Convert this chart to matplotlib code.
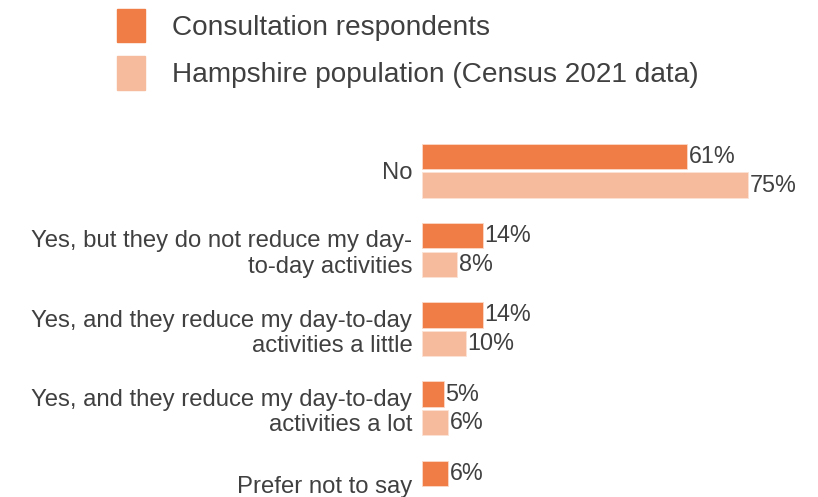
import matplotlib.pyplot as plt
import matplotlib.transforms as mtransforms
import numpy as np
from matplotlib.patches import Patch

plt.rcParams['font.family'] = ['Liberation Sans', 'DejaVu Sans']

categories = ['No',
              'Yes, but they do not reduce my day-\nto-day activities',
              'Yes, and they reduce my day-to-day\nactivities a little',
              'Yes, and they reduce my day-to-day\nactivities a lot',
              'Prefer not to say']
respondents = [61, 14, 14, 5, 6]
census = [75, 8, 10, 6, None]
series_names = ['Consultation respondents', 'Hampshire population (Census 2021 data)']

dark = '#EF7D45'
light = '#F6BB9D'
txt = '#404040'

fig = plt.figure(figsize=(8.18, 4.97), dpi=100)
ax = fig.add_axes([422/818, 0, 396/818, 367/497])

y = np.arange(len(categories))
off = 0.18
h = 0.32

for i, v in enumerate(respondents):
    ax.barh(y[i] - off, v, height=h, color=dark, edgecolor='#FBD9C8', linewidth=0.6)
    ax.text(v + 0.4, y[i] - off, f'{v}%', va='center', ha='left', fontsize=16.8, color=txt)
for i, v in enumerate(census):
    if v is None:
        continue
    ax.barh(y[i] + off, v, height=h, color=light, edgecolor='#FBE3D6', linewidth=0.6)
    ax.text(v + 0.4, y[i] + off, f'{v}%', va='center', ha='left', fontsize=16.8, color=txt)

ax.set_xlim(0, 91)
ax.set_ylim(4.12, -0.515)
ax.set_yticks(y)
ax.set_yticklabels(categories, fontsize=17.2, color=txt, linespacing=1.18)
ax.tick_params(axis='y', length=0, pad=7)
ax.set_xticks([])
for s in ax.spines.values():
    s.set_visible(False)

# last label sits at the bottom edge, nudge it up a little so it isn't clipped
last = ax.get_yticklabels()[-1]
last.set_transform(last.get_transform() + mtransforms.ScaledTranslation(0, 3/100, fig.dpi_scale_trans))

handles = [Patch(color=dark), Patch(color=light)]
fig.legend(handles, series_names, loc='upper left', bbox_to_anchor=(117/818, 1 - 9/497),
           frameon=False, fontsize=20.2, handlelength=1.0, handleheight=1.45,
           handletextpad=0.95, labelspacing=0.5, borderpad=0, borderaxespad=0,
           labelcolor=txt)

fig.savefig('out.png', dpi=100)
